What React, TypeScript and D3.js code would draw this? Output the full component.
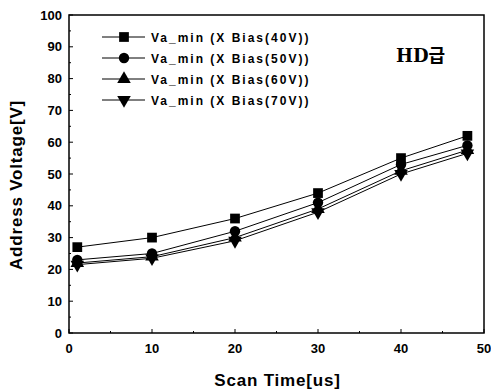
import React from 'react';
import * as d3 from 'd3';

const scanTimes = [1, 10, 20, 30, 40, 48];
const bias40 = [27, 30, 36, 44, 55, 62];
const bias50 = [23, 25, 32, 41, 53, 59];
const bias60 = [22, 24, 30, 39, 51, 57.5];
const bias70 = [21.5, 23.5, 29, 38, 50, 56.5];
const seriesNames = ['Va_min (X Bias(40V))', 'Va_min (X Bias(50V))', 'Va_min (X Bias(60V))', 'Va_min (X Bias(70V))'];
const xTicks = [0, 10, 20, 30, 40, 50];
const yTicks = [0, 10, 20, 30, 40, 50, 60, 70, 80, 90, 100];

const W = 491;
const H = 390;
const left = 69, right = 484, top = 15, bottom = 333;

const x = d3.scaleLinear().domain([0, 50]).range([left, right]);
const y = d3.scaleLinear().domain([0, 100]).range([bottom, top]);

const symbols = [d3.symbolSquare, d3.symbolCircle, d3.symbolTriangle, d3.symbolTriangle];
const sizes = [95, 85, 80, 80];

function Marker({ i, cx, cy }: { i: number; cx: number; cy: number }) {
  const path = d3.symbol().type(symbols[i]).size(sizes[i])()!;
  const rot = i === 3 ? ' rotate(180)' : '';
  return <path d={path} transform={`translate(${cx},${cy})${rot}`} fill="#000" />;
}

export default function App() {
  const all = [bias40, bias50, bias60, bias70];
  const line = d3.line<number>().x((_, k) => x(scanTimes[k])).y(d => y(d));
  const font = 'Arial, "Liberation Sans", sans-serif';
  const minorX = d3.range(5, 50, 10);
  const minorY = d3.range(5, 100, 10);

  return (
    <div style={{ position: 'absolute', left: 0, top: 0 }}>
      <svg width={W} height={H} style={{ display: 'block', background: '#fff' }}>
        <rect x={left} y={top} width={right - left} height={bottom - top} fill="none" stroke="#000" strokeWidth={1.5} />
        {/* ticks */}
        {yTicks.map(t => (
          <g key={'y' + t}>
            <line x1={left} x2={left + 4} y1={y(t)} y2={y(t)} stroke="#000" />
            <text x={left - 7} y={y(t) + 4.5} textAnchor="end" fontFamily={font} fontWeight="bold" fontSize={13}>{t}</text>
          </g>
        ))}
        {minorY.map(t => (
          <line key={'my' + t} x1={left} x2={left + 2} y1={y(t)} y2={y(t)} stroke="#000" />
        ))}
        {xTicks.map(t => (
          <g key={'x' + t}>
            <line x1={x(t)} x2={x(t)} y1={bottom} y2={bottom - 4} stroke="#000" />
            <text x={x(t)} y={bottom + 20} textAnchor="middle" fontFamily={font} fontWeight="bold" fontSize={13}>{t}</text>
          </g>
        ))}
        {minorX.map(t => (
          <line key={'mx' + t} x1={x(t)} x2={x(t)} y1={bottom} y2={bottom - 2} stroke="#000" />
        ))}
        {/* series */}
        {all.map((s, i) => (
          <g key={'s' + i}>
            <path d={line(s)!} fill="none" stroke="#000" strokeWidth={1} />
            {s.map((v, k) => <Marker key={k} i={i} cx={x(scanTimes[k])} cy={y(v)} />)}
          </g>
        ))}
        {/* legend */}
        {seriesNames.map((n, i) => {
          const ly = 37 + i * 21;
          return (
            <g key={'l' + i}>
              <line x1={102} x2={145} y1={ly} y2={ly} stroke="#000" />
              <Marker i={i} cx={124} cy={ly} />
              <text x={151} y={ly + 4.5} fontFamily={font} fontWeight="bold" fontSize={12} letterSpacing={2}>{n}</text>
            </g>
          );
        })}
        <text x={396} y={62} fontFamily='"DejaVu Serif", "Liberation Serif", "Noto Sans CJK KR", serif' fontWeight="bold" fontSize={18}>HD급</text>
        {/* axis titles */}
        <text x={(left + right) / 2 + 1} y={386} textAnchor="middle" fontFamily={font} fontWeight="bold" fontSize={17} letterSpacing={0.8}>Scan Time[us]</text>
        <text transform={`translate(22,185) rotate(-90)`} textAnchor="middle" fontFamily={font} fontWeight="bold" fontSize={17} letterSpacing={0.8}>Address Voltage[V]</text>
      </svg>
    </div>
  );
}
